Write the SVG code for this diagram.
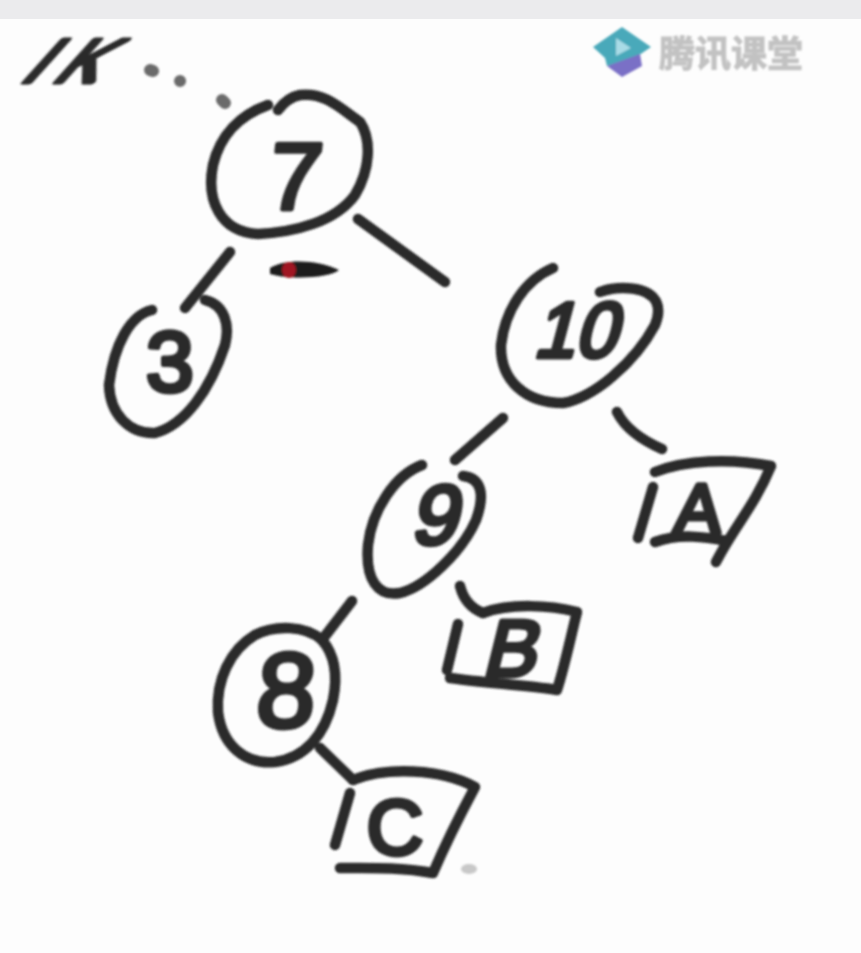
<svg xmlns="http://www.w3.org/2000/svg" width="861" height="953" viewBox="0 0 861 953">
<style>
.s{fill:none;stroke:#2a2a2a;stroke-width:10.5;stroke-linecap:round;stroke-linejoin:round}
.t{font-family:"Liberation Sans",sans-serif;font-weight:400;fill:#2a2a2a;stroke:#2a2a2a;stroke-width:5;stroke-linejoin:round;text-anchor:middle}
</style>
<defs><filter id="b" x="-5%" y="-5%" width="110%" height="110%"><feGaussianBlur stdDeviation="1"/></filter></defs>
<rect width="861" height="953" fill="#fdfdfd"/>
<rect width="861" height="19" fill="#ebebed"/>
<g id="watermark" filter="url(#b)">
<path d="M622 27L651 47L632 60L607 66L605 58L593 47Z" fill="#4aa9ba"/>
<path d="M607 66L640 54L642 66L622 77Z" fill="#7a70c6"/>
<path d="M616 38L631 48L616 56Z" fill="#a9dbe6"/>
<text x="731" y="67" font-family="'Noto Sans CJK SC',sans-serif" font-size="36" font-weight="700" fill="#c2c2c2" stroke="#c2c2c2" stroke-width="1" text-anchor="middle">腾讯课堂</text>
</g>
<g filter="url(#b)">
<g id="connectors">
<path class="s" d="M230 252L185 308"/>
<path class="s" d="M358 219L445 282"/>
<path class="s" d="M503 418L455 460"/>
<path class="s" d="M617 412Q628 434 662 449"/>
<path class="s" d="M352 601L322 640"/>
<path class="s" d="M460 586Q465 606 483 613"/>
<path class="s" d="M320 748L353 780"/>
<path d="M150 70l3 1M180 81h.1M222 100l3 3" stroke="#6a6a6a" stroke-width="12" stroke-linecap="round" fill="none"/>
</g>
<g id="label-top"><text class="t" x="0" y="0" font-size="58" transform="translate(56 82) skewX(-42) scale(1.1 1.05)" textLength="68">IK</text></g>
<g id="node-7">
<path class="s" d="M268 105C240 115 220 135 213 165C206 200 220 232 258 234C295 232 335 222 355 195C370 170 372 140 360 122C340 108 325 92 300 95C290 97 284 102 278 110"/>
<text class="t" x="292" y="209" font-size="94" transform="skewX(-6) translate(22 0)">7</text>
</g>
<g id="node-3">
<path class="s" d="M152 310C130 315 114 345 109 385C110 415 130 434 155 433C185 425 210 390 225 345C230 325 225 305 205 300"/>
<text class="t" x="170" y="391" font-size="86">3</text>
</g>
<g id="node-10">
<path class="s" d="M553 268C525 280 505 310 501 345C500 380 525 403 563 403C595 397 635 362 655 325C665 300 650 288 623 288C612 288 605 290 600 292"/>
<text class="t" x="0" y="0" font-size="78" transform="translate(574 357) skewX(-15) scale(.95 1)">10</text>
</g>
<g id="node-9">
<path class="s" d="M422 465C395 475 372 510 368 545C365 580 378 597 400 593C425 587 462 552 476 520C485 495 482 478 463 476"/>
<text class="t" x="0" y="0" font-size="84" transform="translate(433 544) skewX(-12)">9</text>
</g>
<g id="node-8">
<path class="s" d="M322 640C305 625 275 625 255 635C230 650 216 680 218 712C222 745 245 765 275 762C305 758 325 735 333 700C338 675 335 655 322 640"/>
<text class="t" x="0" y="0" font-size="106" transform="translate(284 727) skewX(-4)">8</text>
</g>
<g id="node-A">
<path class="s" d="M655 472C685 460 730 458 771 466C755 505 732 530 716 562"/>
<path class="s" d="M653 487L638 538"/>
<path class="s" d="M655 542C680 533 705 537 727 541"/>
<text class="t" x="0" y="0" font-size="70" transform="translate(696 533) skewX(-6)">A</text>
</g>
<g id="node-B">
<path class="s" d="M483 613C510 603 550 605 577 612C570 640 565 665 557 690C525 685 485 683 450 678"/>
<path class="s" d="M458 624L447 670"/>
<text class="t" x="0" y="0" font-size="80" transform="translate(508 676) skewX(-14)">B</text>
</g>
<g id="node-C">
<path class="s" d="M353 780C385 767 440 768 475 787C460 815 445 845 433 873C400 867 370 868 340 868"/>
<path class="s" d="M350 793L335 845"/>
<text class="t" x="0" y="0" font-size="78" transform="translate(395 854)">C</text>
</g>
<path d="M270 268C285 258 320 260 339 270C330 278 290 280 270 274Z" fill="#1c1c1c"/>
<ellipse cx="289" cy="270" rx="7" ry="8" fill="#a01820"/>
<ellipse cx="469" cy="869" rx="8" ry="5" fill="#c8c8c8"/>
</g>
</svg>
